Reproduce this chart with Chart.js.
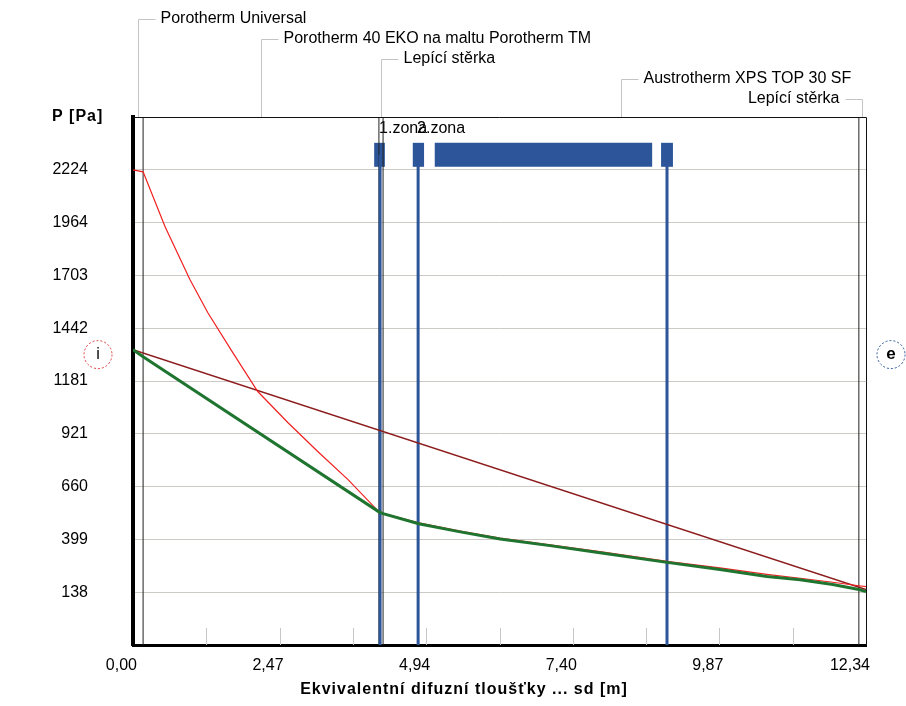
<!DOCTYPE html>
<html>
<head>
<meta charset="utf-8">
<script src="https://cdn.jsdelivr.net/npm/chart.js@4.4.1/dist/chart.umd.min.js"></script>
<style>
  html, body { margin: 0; padding: 0; background: #fff; }
</style>
</head>
<body>
<canvas id="myChart" width="906" height="706"></canvas>
<script>
// axis range and ticks
var yMin = -122.75, yMax = 2484.75;
var yTickValues = [138, 399, 660, 921, 1181, 1442, 1703, 1964, 2224];
var xTickValues = [0, 1.234, 2.468, 3.702, 4.936, 6.17, 7.404, 8.638, 9.872, 11.106, 12.34];
var xTickLabels = ["0,00", "2,47", "4,94", "7,40", "9,87", "12,34"];

// layers of the wall (sd boundaries)
var layerNames = ["Porotherm Universal", "Porotherm 40 EKO na maltu Porotherm TM", "Lepící stěrka", "Austrotherm XPS TOP 30 SF", "Lepící stěrka"];
var layerBounds = [0, 0.17, 4.14, 4.21, 12.22, 12.34];

// saturated vapour pressure (red)
var sdSat = [0, 0.17, 0.54, 0.96, 1.26, 1.68, 2.10, 2.61, 3.11, 3.62, 4.14, 4.21, 4.81, 5.51, 6.18, 7.02, 7.86, 9.02, 9.88, 10.67, 11.23, 11.78, 12.22, 12.34];
var pSat = [2224, 2214, 1943, 1681, 1518, 1321, 1129, 975, 833, 694, 535, 528, 480, 440, 405, 372, 338, 289, 258, 226, 207, 187, 170, 166];

// real vapour pressure (green)
var sdReal = [0, 0.17, 4.14, 4.21, 4.81, 5.51, 6.18, 7.02, 7.86, 9.02, 9.88, 10.67, 11.23, 11.78, 12.22, 12.34];
var pReal = [1336, 1301, 535, 526, 476, 436, 401, 368, 333, 284, 250, 215, 200, 176, 151, 141];

// pressure without condensation (dark red)
var sdLin = [0, 12.34];
var pLin = [1336, 151];

// condensation zones
var zoneLines = [4.16, 4.80, 8.99];
var zoneLabels = ["1.zona", "2.zona"];
var barStarts = [4.06, 4.71, 5.08, 8.89];
var barEnds = [4.24, 4.90, 8.74, 9.09];
var barLevel = 2298;

var FONT = "'Liberation Sans', Arial, sans-serif";
var BLUE = "#2c5699";

function pts(xs, ys){
    var a = [];
    for(let i=0; i<xs.length; i++){
        a.push({x: xs[i], y: ys[i]});
    }
    return a;
}

var datasets = [
    {data: pts(sdReal, pReal), borderColor: "#1f7530", borderWidth: 3},
    {data: pts(sdSat, pSat), borderColor: "#f02020", borderWidth: 1.2},
    {data: pts(sdLin, pLin), borderColor: "#8c1c1c", borderWidth: 1.5}
];
for(let i=0; i<zoneLines.length; i++){
    datasets.push({data: [{x: zoneLines[i], y: yMin}, {x: zoneLines[i], y: barLevel}], borderColor: BLUE, borderWidth: 3});
}
for(let i=1; i<layerBounds.length-1; i++){
    datasets.push({data: [{x: layerBounds[i], y: yMin}, {x: layerBounds[i], y: yMax}], borderColor: "#222", borderWidth: 1});
}
for(let i=0; i<barStarts.length; i++){
    datasets.push({data: [{x: barStarts[i], y: barLevel}, {x: barEnds[i], y: barLevel}], borderColor: BLUE, borderWidth: 24, borderCapStyle: "butt"});
}
datasets.forEach(function(d){
    d.showLine = true;
    d.pointRadius = 0;
    d.pointHoverRadius = 0;
    d.fill = false;
    d.tension = 0;
});

var decor = {
    id: "decor",
    beforeDatasetsDraw: function(chart){
        var ctx = chart.ctx, a = chart.chartArea, xs = chart.scales.x;
        ctx.save();
        ctx.strokeStyle = "#c8c6c2";
        ctx.lineWidth = 1;
        for(let i=1; i<xTickValues.length-1; i++){
            var px = Math.round(xs.getPixelForValue(xTickValues[i])) + 0.5;
            ctx.beginPath();
            ctx.moveTo(px, a.bottom - 17);
            ctx.lineTo(px, a.bottom);
            ctx.stroke();
        }
        // zone labels (under the lines)
        ctx.fillStyle = "#000";
        ctx.font = "16px " + FONT;
        ctx.textAlign = "left";
        ctx.textBaseline = "middle";
        for(let i=0; i<zoneLabels.length; i++){
            ctx.fillText(zoneLabels[i], xs.getPixelForValue(zoneLines[i]) - 1, a.top + 12);
        }
        ctx.restore();
    },
    afterDraw: function(chart){
        var ctx = chart.ctx, a = chart.chartArea, xs = chart.scales.x, ys = chart.scales.y;
        ctx.save();
        // top and right frame
        ctx.strokeStyle = "#111";
        ctx.lineWidth = 1;
        ctx.beginPath();
        ctx.moveTo(a.left, a.top + 0.5);
        ctx.lineTo(a.right + 0.5, a.top + 0.5);
        ctx.lineTo(a.right + 0.5, a.bottom);
        ctx.stroke();

        // layer labels with leader lines
        ctx.font = "16px " + FONT;
        ctx.textBaseline = "middle";
        for(let i=0; i<layerNames.length; i++){
            var lx = Math.round(xs.getPixelForValue((layerBounds[i] + layerBounds[i+1]) / 2)) + 0.5;
            var ly = 19 + 20 * i;
            var w = ctx.measureText(layerNames[i]).width;
            ctx.strokeStyle = "#c4c4c4";
            ctx.beginPath();
            ctx.moveTo(lx, a.top);
            ctx.lineTo(lx, ly + 0.5);
            if(lx + 22 + w > chart.width - 4){
                ctx.lineTo(lx - 17, ly + 0.5);
                ctx.stroke();
                ctx.fillStyle = "#000";
                ctx.textAlign = "right";
                ctx.fillText(layerNames[i], lx - 23, ly);
            } else {
                ctx.lineTo(lx + 17, ly + 0.5);
                ctx.stroke();
                ctx.fillStyle = "#000";
                ctx.textAlign = "left";
                ctx.fillText(layerNames[i], lx + 22, ly);
            }
        }

        // axis titles
        ctx.font = "bold 16px " + FONT;
        ctx.letterSpacing = "1px";
        ctx.textAlign = "left";
        ctx.fillText("P [Pa]", 52, a.top);
        ctx.textAlign = "center";
        ctx.fillText("Ekvivalentní difuzní tloušťky ... sd [m]", 464, 690);
        ctx.letterSpacing = "0px";

        // interior / exterior markers
        var cy = ys.getPixelForValue(pReal[0]) + 5;
        ctx.lineWidth = 1;
        ctx.setLineDash([2, 2]);
        ctx.strokeStyle = "#e03a3a";
        ctx.beginPath();
        ctx.arc(a.left - 35, cy, 14, 0, Math.PI * 2);
        ctx.stroke();
        ctx.strokeStyle = BLUE;
        ctx.beginPath();
        ctx.arc(a.right + 25, cy, 14, 0, Math.PI * 2);
        ctx.stroke();
        ctx.setLineDash([]);
        ctx.fillStyle = "#000";
        ctx.textAlign = "center";
        ctx.font = "16px " + FONT;
        ctx.fillText("i", a.left - 35, cy);
        ctx.font = "bold 17px " + FONT;
        ctx.fillText("e", a.right + 25, cy);
        ctx.restore();
    }
};

var graph = new Chart("myChart", {
    type: "scatter",
    data: {datasets: datasets},
    options: {
        responsive: false,
        animation: false,
        devicePixelRatio: 1,
        layout: {padding: {top: 117, right: 40, left: 0, bottom: 0}},
        plugins: {legend: {display: false}, tooltip: {enabled: false}},
        scales: {
            x: {
                type: "linear",
                min: 0,
                max: 12.34,
                afterBuildTicks: function(scale){
                    scale.ticks = xTickValues.map(function(v){ return {value: v}; });
                },
                afterFit: function(scale){
                    scale.height = 61;
                    scale.paddingLeft = 0;
                    scale.paddingRight = 0;
                },
                ticks: {
                    autoSkip: false,
                    maxRotation: 0,
                    align: "end",
                    labelOffset: 4,
                    padding: 11,
                    color: "#000",
                    font: {family: FONT, size: 16},
                    callback: function(v, i){ return i % 2 == 0 ? xTickLabels[i / 2] : ""; }
                },
                grid: {drawOnChartArea: false, drawTicks: false},
                border: {color: "#000", width: 3}
            },
            y: {
                type: "linear",
                min: yMin,
                max: yMax,
                afterBuildTicks: function(scale){
                    scale.ticks = [yMin].concat(yTickValues, [yMax]).map(function(v){ return {value: v}; });
                },
                afterFit: function(scale){
                    scale.width = 133;
                    scale.paddingTop = 0;
                    scale.paddingBottom = 0;
                },
                ticks: {
                    padding: 45,
                    color: "#000",
                    font: {family: FONT, size: 16},
                    callback: function(v){ return yTickValues.indexOf(v) >= 0 ? String(v) : ""; }
                },
                grid: {
                    drawTicks: false,
                    color: function(c){ return (c.tick && yTickValues.indexOf(c.tick.value) >= 0) ? "#cdc9c4" : "rgba(0,0,0,0)"; }
                },
                border: {color: "#000", width: 4}
            }
        }
    },
    plugins: [decor]
});
</script>
</body>
</html>
